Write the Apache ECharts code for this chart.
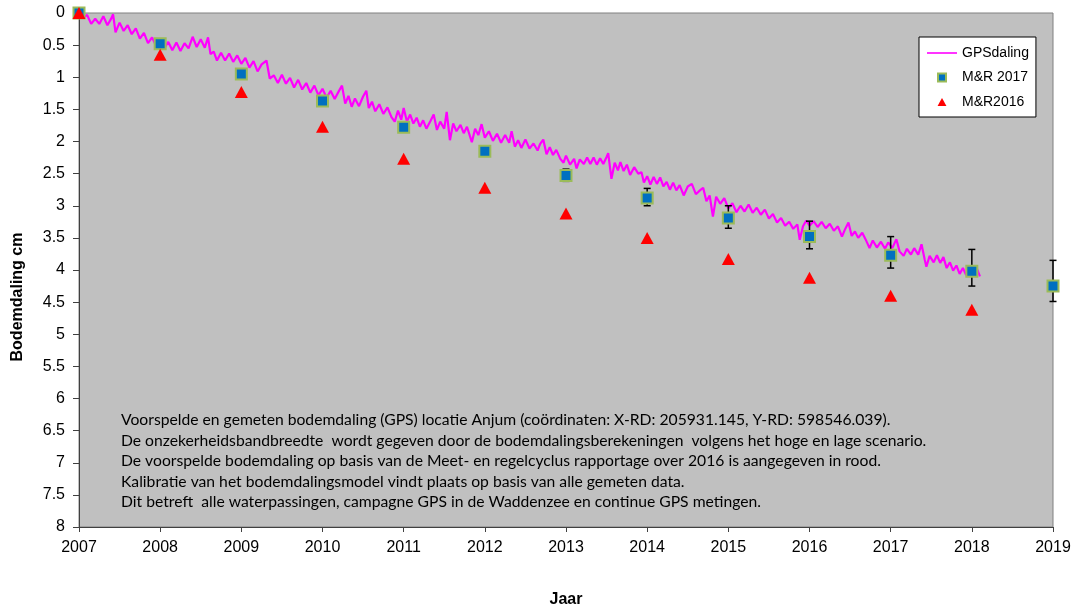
<!DOCTYPE html>
<html>
<head>
<meta charset="utf-8">
<script src="https://cdn.jsdelivr.net/npm/echarts@6/dist/echarts.min.js"></script>
<style>
html,body{margin:0;padding:0;background:#fff;}
#chart{width:1074px;height:607px;}
</style>
</head>
<body>
<div id="chart"></div>
<script>
// ---- Data ----
var years = [2007, 2008, 2009, 2010, 2011, 2012, 2013, 2014, 2015, 2016, 2017, 2018, 2019];
var mr2017 = [0, 0.48, 0.95, 1.37, 1.78, 2.15, 2.53, 2.88, 3.19, 3.48, 3.77, 4.02, 4.25];
var mr2017Low = [0, 0.46, 0.92, 1.33, 1.73, 2.09, 2.43, 2.73, 3.00, 3.24, 3.48, 3.68, 3.85];
var mr2017High = [0, 0.50, 0.98, 1.41, 1.83, 2.21, 2.62, 3.00, 3.35, 3.67, 3.97, 4.25, 4.49];
var years2016 = [2007, 2008, 2009, 2010, 2011, 2012, 2013, 2014, 2015, 2016, 2017, 2018];
var mr2016 = [0, 0.65, 1.23, 1.77, 2.27, 2.72, 3.12, 3.50, 3.83, 4.12, 4.40, 4.62];

// GPS measurements [year, subsidence cm], read along the noisy band
var gpsDaling = [
[2007.00,0.00],[2007.05,0.08],[2007.10,0.03],[2007.15,0.17],[2007.20,0.09],[2007.25,0.17],[2007.30,0.05],[2007.35,0.19],
[2007.40,0.08],[2007.42,0.02],[2007.45,0.30],[2007.50,0.15],[2007.55,0.28],[2007.60,0.19],[2007.65,0.33],[2007.70,0.24],
[2007.75,0.40],[2007.80,0.31],[2007.85,0.47],[2007.90,0.38],[2007.95,0.51],[2008.00,0.42],[2008.05,0.55],[2008.10,0.45],
[2008.15,0.58],[2008.20,0.46],[2008.25,0.59],[2008.30,0.47],[2008.35,0.55],[2008.40,0.37],[2008.45,0.53],[2008.50,0.41],
[2008.55,0.54],[2008.59,0.38],[2008.62,0.64],[2008.66,0.60],[2008.70,0.74],[2008.75,0.62],[2008.80,0.74],[2008.85,0.63],
[2008.90,0.76],[2008.95,0.66],[2009.00,0.79],[2009.05,0.70],[2009.10,0.85],[2009.15,0.75],[2009.20,0.91],[2009.25,0.80],
[2009.31,0.74],[2009.35,1.02],[2009.40,0.97],[2009.45,1.09],[2009.50,0.96],[2009.55,1.10],[2009.60,1.01],[2009.65,1.16],
[2009.70,1.04],[2009.75,1.19],[2009.80,1.09],[2009.85,1.24],[2009.90,1.13],[2009.95,1.28],[2010.00,1.18],[2010.05,1.32],
[2010.10,1.21],[2010.15,1.34],[2010.20,1.22],[2010.24,1.13],[2010.28,1.41],[2010.32,1.29],[2010.36,1.46],[2010.40,1.33],
[2010.45,1.45],[2010.50,1.30],[2010.54,1.21],[2010.57,1.48],[2010.61,1.38],[2010.65,1.53],[2010.70,1.42],[2010.75,1.57],
[2010.80,1.47],[2010.85,1.62],[2010.89,1.69],[2010.93,1.52],[2010.97,1.66],[2011.00,1.48],[2011.04,1.69],[2011.08,1.58],
[2011.12,1.72],[2011.16,1.63],[2011.20,1.77],[2011.24,1.67],[2011.28,1.80],[2011.33,1.68],[2011.37,1.58],[2011.41,1.82],
[2011.45,1.69],[2011.50,1.80],[2011.53,1.54],[2011.57,1.98],[2011.61,1.72],[2011.65,1.84],[2011.70,1.74],[2011.74,1.87],
[2011.78,1.77],[2011.84,2.01],[2011.88,1.80],[2011.92,1.90],[2011.96,1.73],[2012.00,1.94],[2012.05,1.84],[2012.10,1.99],
[2012.15,1.88],[2012.20,2.02],[2012.25,1.90],[2012.30,2.02],[2012.33,1.84],[2012.37,2.08],[2012.41,1.98],[2012.45,2.10],
[2012.50,1.97],[2012.55,2.11],[2012.60,2.03],[2012.65,2.14],[2012.68,2.04],[2012.72,1.97],[2012.76,2.20],[2012.80,2.09],
[2012.84,2.21],[2012.88,2.13],[2012.93,2.27],[2012.97,2.33],[2013.00,2.22],[2013.05,2.36],[2013.10,2.27],[2013.13,2.42],
[2013.17,2.28],[2013.22,2.35],[2013.26,2.25],[2013.30,2.35],[2013.34,2.25],[2013.38,2.36],[2013.42,2.26],[2013.46,2.35],
[2013.50,2.24],[2013.52,2.18],[2013.56,2.58],[2013.60,2.33],[2013.64,2.45],[2013.67,2.32],[2013.71,2.46],[2013.75,2.36],
[2013.79,2.52],[2013.84,2.40],[2013.89,2.50],[2013.93,2.48],[2013.96,2.64],[2014.00,2.54],[2014.04,2.67],[2014.08,2.55],
[2014.12,2.66],[2014.16,2.56],[2014.20,2.70],[2014.24,2.63],[2014.28,2.75],[2014.32,2.64],[2014.36,2.76],[2014.40,2.68],
[2014.45,2.84],[2014.50,2.70],[2014.55,2.66],[2014.60,2.82],[2014.65,2.76],[2014.69,2.72],[2014.73,2.93],[2014.77,2.84],
[2014.81,3.17],[2014.85,2.86],[2014.90,2.97],[2014.95,2.88],[2015.00,3.04],[2015.05,2.96],[2015.10,3.10],[2015.15,3.00],
[2015.20,3.09],[2015.25,2.98],[2015.30,3.11],[2015.35,3.03],[2015.40,3.14],[2015.45,3.06],[2015.50,3.20],[2015.55,3.13],
[2015.60,3.26],[2015.65,3.19],[2015.70,3.31],[2015.75,3.25],[2015.80,3.36],[2015.85,3.29],[2015.88,3.53],[2015.92,3.32],
[2015.96,3.23],[2016.00,3.31],[2016.05,3.24],[2016.10,3.33],[2016.15,3.25],[2016.20,3.35],[2016.25,3.28],[2016.30,3.39],
[2016.35,3.32],[2016.40,3.48],[2016.44,3.36],[2016.48,3.26],[2016.52,3.47],[2016.56,3.40],[2016.60,3.50],[2016.65,3.42],
[2016.69,3.52],[2016.74,3.66],[2016.78,3.54],[2016.83,3.65],[2016.88,3.56],[2016.93,3.67],[2016.97,3.57],[2017.02,3.66],
[2017.07,3.52],[2017.11,3.71],[2017.16,3.78],[2017.20,3.67],[2017.25,3.76],[2017.29,3.66],[2017.34,3.76],[2017.38,3.60],
[2017.42,3.84],[2017.44,3.95],[2017.48,3.78],[2017.53,3.88],[2017.57,3.77],[2017.61,3.89],[2017.65,3.80],[2017.69,3.97],
[2017.73,3.88],[2017.77,4.01],[2017.81,3.93],[2017.85,4.06],[2017.89,3.97],[2017.93,4.08],[2017.98,4.00],[2018.02,4.09],
[2018.06,3.97],[2018.10,4.10]
];

var seriesNames = ['GPSdaling', 'M&R 2017', 'M&R2016'];
var yTitle = 'Bodemdaling cm';
var xTitle = 'Jaar';
var noteLines = [
  'Voorspelde en gemeten bodemdaling (GPS) locatie Anjum (coördinaten: X-RD: 205931.145, Y-RD: 598546.039).',
  'De onzekerheidsbandbreedte  wordt gegeven door de bodemdalingsberekeningen  volgens het hoge en lage scenario.',
  'De voorspelde bodemdaling op basis van de Meet- en regelcyclus rapportage over 2016 is aangegeven in rood.',
  'Kalibratie van het bodemdalingsmodel vindt plaats op basis van alle gemeten data.',
  'Dit betreft  alle waterpassingen, campagne GPS in de Waddenzee en continue GPS metingen.'
];

// ---- Build series data ----
var sq = years.map(function (y, i) { return [y, mr2017[i]]; });
var tri = years2016.map(function (y, i) { return [y, mr2016[i]]; });
var err = years.map(function (y, i) { return [y, mr2017Low[i], mr2017High[i]]; });

var chart = echarts.init(document.getElementById('chart'), null, { renderer: 'canvas' });
var axisFont = '"Liberation Sans", Arial, sans-serif';

chart.setOption({
  animation: false,
  backgroundColor: '#ffffff',
  grid: {
    left: 79, right: 21, top: 13, bottom: 80,
    containLabel: false, outerBoundsMode: 'none',
    show: true, backgroundColor: '#C0C0C0', borderColor: '#808080', borderWidth: 1
  },
  xAxis: {
    type: 'value', min: 2007, max: 2019, interval: 1,
    name: xTitle, nameLocation: 'middle', nameGap: 65,
    nameTextStyle: { fontFamily: axisFont, fontWeight: 'bold', fontSize: 16, color: '#000' },
    axisLine: { show: true, onZero: false, lineStyle: { color: '#404040', width: 1 } },
    axisTick: { show: true, length: 5, lineStyle: { color: '#404040' } },
    axisLabel: { fontFamily: axisFont, fontSize: 16, color: '#000', margin: 13,
      formatter: function (v) { return String(v); } },
    splitLine: { show: false }
  },
  yAxis: {
    type: 'value', inverse: true, min: 0, max: 8, interval: 0.5,
    axisLine: { show: true, onZero: false, lineStyle: { color: '#404040', width: 1 } },
    axisTick: { show: true, length: 6, lineStyle: { color: '#404040' } },
    axisLabel: { fontFamily: axisFont, fontSize: 16, color: '#000', margin: 14 },
    splitLine: { show: false }
  },
  legend: {
    orient: 'vertical', left: 919, top: 37,
    backgroundColor: '#ffffff', borderColor: '#000', borderWidth: 1,
    padding: [9, 7, 8, 8],
    itemWidth: 30, itemHeight: 8, itemGap: 10.5,
    textStyle: { fontFamily: axisFont, fontSize: 14, color: '#000' },
    data: [
      { name: seriesNames[0], icon: 'path://M0,0L30,0L30,1.6L0,1.6Z' },
      { name: seriesNames[1], icon: 'path://M0,0L10,0L10,10L0,10Z' },
      { name: seriesNames[2], icon: 'path://M5,0L10,9L0,9Z' }
    ]
  },
  graphic: [
    { type: 'text', x: 18, y: 297, rotation: Math.PI / 2,
      style: { text: yTitle, font: 'bold 16px "Liberation Sans", Arial, sans-serif', fill: '#000',
        textAlign: 'center', textVerticalAlign: 'middle' } },
    { type: 'text', x: 121, y: 410,
      style: { text: noteLines.join('\n'), font: '15.7px Lato, "Open Sans", sans-serif', fill: '#000',
        lineHeight: 20.5, textAlign: 'left', textVerticalAlign: 'top' } }
  ],
  series: [
    {
      name: seriesNames[0], type: 'line', data: gpsDaling, showSymbol: false, symbol: 'none',
      lineStyle: { color: '#FF00FF', width: 2.2 }, itemStyle: { color: '#FF00FF' }, z: 2
    },
    {
      name: 'foutmarge', type: 'custom', data: err, encode: { x: 0, y: [1, 2] }, clip: false, z: 3,
      renderItem: function (params, api) {
        var x = api.value(0);
        var p1 = api.coord([x, api.value(1)]);
        var p2 = api.coord([x, api.value(2)]);
        var w = 3.5;
        var st = { stroke: '#000', lineWidth: 1.5 };
        return { type: 'group', children: [
          { type: 'line', shape: { x1: p1[0], y1: p1[1], x2: p2[0], y2: p2[1] }, style: st },
          { type: 'line', shape: { x1: p1[0] - w, y1: p1[1], x2: p1[0] + w, y2: p1[1] }, style: st },
          { type: 'line', shape: { x1: p2[0] - w, y1: p2[1], x2: p2[0] + w, y2: p2[1] }, style: st }
        ] };
      }
    },
    {
      name: seriesNames[1], type: 'scatter', data: sq, symbol: 'rect', symbolSize: 11, clip: false, z: 4,
      itemStyle: { color: '#0070C0', borderColor: '#9BBB59', borderWidth: 2, opacity: 1 }
    },
    {
      name: seriesNames[2], type: 'scatter', data: tri, symbol: 'triangle', symbolSize: [13, 12], clip: false, z: 5,
      itemStyle: { color: '#FF0000', opacity: 1 }
    }
  ]
});
</script>
</body>
</html>
